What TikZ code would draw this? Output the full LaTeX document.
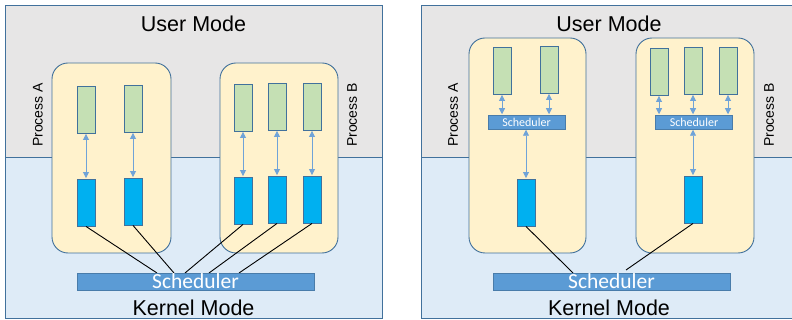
\documentclass[tikz,border=0pt]{standalone}
\usepackage{fontspec}
\setmainfont{Liberation Sans}
\newfontfamily\calib{Carlito}
\usetikzlibrary{arrows.meta}
\definecolor{bggray}{HTML}{E7E6E6}
\definecolor{bgblue}{HTML}{DEEBF7}
\definecolor{frameblue}{HTML}{41719C}
\definecolor{procfill}{HTML}{FFF2CC}
\definecolor{thrgreen}{HTML}{C5E0B4}
\definecolor{thrblue}{HTML}{00B0F0}
\definecolor{schedblue}{HTML}{5B9BD5}
\definecolor{arrowblue}{HTML}{6FA3D8}
\tikzset{
  procbox/.style={draw=frameblue, line width=0.9pt, fill=procfill, rounded corners=16pt},
  gbox/.style={draw=frameblue, line width=0.9pt, fill=thrgreen, minimum width=18pt, minimum height=47pt, inner sep=0pt},
  kbox/.style={draw=frameblue, line width=0.9pt, fill=thrblue, minimum width=18pt, minimum height=47pt, inner sep=0pt},
  bigsched/.style={draw=schedblue!80!black, line width=0.5pt, fill=schedblue, minimum width=237pt, minimum height=17pt, inner sep=0pt, text=white, font=\calib\fontsize{21.5}{22}\selectfont},
  smallsched/.style={draw=schedblue!80!black, line width=0.5pt, fill=schedblue, minimum width=77pt, minimum height=14pt, inner sep=0pt, text=white, font=\calib\fontsize{12}{13}\selectfont},
  modelabel/.style={font=\fontsize{21.5}{22}\selectfont, inner sep=0pt},
  proclabel/.style={font=\fontsize{14}{15}\selectfont, inner sep=0pt, rotate=90},
  darr/.style={draw=arrowblue, line width=0.8pt, {Triangle[width=6pt,length=6pt]}-{Triangle[width=6pt,length=6pt]}, shorten <=0.5pt, shorten >=0.5pt},
  kline/.style={draw=black, line width=0.9pt},
}
\begin{document}
\begin{tikzpicture}[x=1pt,y=-1pt]
\useasboundingbox (0,0) rectangle (792,320);
% ---------------- left panel ----------------
\fill[bggray] (5,5) rectangle (382,157);
\fill[bgblue] (5,157) rectangle (382,318);
\draw[frameblue, line width=0.9pt] (5,5) rectangle (382,318);
\draw[frameblue, line width=0.9pt] (5,157) -- (382,157);
\node[modelabel] (lum) at (193.5,24) {User Mode};
\node[modelabel] (lkm) at (193.5,308) {Kernel Mode};
\draw[procbox] (52,63) rectangle (171,253);
\draw[procbox] (220,63) rectangle (338,253);
\node[proclabel] (lpa) at (38,115) {Process A};
\node[proclabel] (lpb) at (352,115) {Process B};
\node[gbox] (la1) at (86,109.5) {};
\node[gbox] (la2) at (133,108.5) {};
\node[kbox] (lka1) at (86,202.5) {};
\node[kbox] (lka2) at (133,201.5) {};
\node[gbox] (lb1) at (243,107.5) {};
\node[gbox] (lb2) at (277,106.5) {};
\node[gbox] (lb3) at (312,106.5) {};
\node[kbox] (lkb1) at (243,200.5) {};
\node[kbox] (lkb2) at (277,199.5) {};
\node[kbox] (lkb3) at (312,199.5) {};
\draw[darr] (la1.south) -- (lka1.north);
\draw[darr] (la2.south) -- (lka2.north);
\draw[darr] (lb1.south) -- (lkb1.north);
\draw[darr] (lb2.south) -- (lkb2.north);
\draw[darr] (lb3.south) -- (lkb3.north);
\coordinate (ls1) at (157,273);
\coordinate (ls2) at (174,273);
\coordinate (ls3) at (185,273);
\coordinate (ls4) at (209,273);
\coordinate (ls5) at (239,273);
\draw[kline] (lka1.south) -- (ls1);
\draw[kline] (lka2.south) -- (ls2);
\draw[kline] (lkb1.south) -- (ls3);
\draw[kline] (lkb2.south) -- (ls4);
\draw[kline] (lkb3.south) -- (ls5);
\node[bigsched] (ls) at (195.5,281.5) {Scheduler};
% ---------------- right panel ----------------
\fill[bggray] (421,5) rectangle (793,157);
\fill[bgblue] (421,157) rectangle (793,318);
\draw[frameblue, line width=0.9pt] (793,5) -- (421,5) -- (421,318) -- (793,318);
\draw[frameblue, line width=0.9pt] (421,157) -- (793,157);
\node[modelabel] (rum) at (609,24) {User Mode};
\node[modelabel] (rkm) at (609,308) {Kernel Mode};
\draw[procbox] (469,38) rectangle (586,253);
\draw[procbox] (636,38) rectangle (754,253);
\node[proclabel] (rpa) at (453,115) {Process A};
\node[proclabel] (rpb) at (769,115) {Process B};
\node[gbox] (ra1) at (502,70.5) {};
\node[gbox] (ra2) at (549,69.5) {};
\node[gbox] (rb1) at (659,71.5) {};
\node[gbox] (rb2) at (693,70.5) {};
\node[gbox] (rb3) at (728,70.5) {};
\node[smallsched] (rsa) at (526.5,122) {Scheduler};
\node[smallsched] (rsb) at (694,122) {Scheduler};
\node[kbox] (rka) at (526,202.5) {};
\node[kbox] (rkb) at (693,199.5) {};
\draw[darr] (ra1.south) -- (ra1.south |- rsa.north);
\draw[darr] (ra2.south) -- (ra2.south |- rsa.north);
\draw[darr] (rb1.south) -- (rb1.south |- rsb.north);
\draw[darr] (rb2.south) -- (rb2.south |- rsb.north);
\draw[darr] (rb3.south) -- (rb3.south |- rsb.north);
\draw[darr] (rka.north |- rsa.south) -- (rka.north);
\draw[darr] (rkb.north |- rsb.south) -- (rkb.north);
\coordinate (rs1) at (573,273);
\coordinate (rs2) at (626,270);
\draw[kline] (rka.south) -- (rs1);
\draw[kline] (rkb.south) -- (rs2);
\node[bigsched] (rs) at (611.5,281.5) {Scheduler};
\end{tikzpicture}
\end{document}
